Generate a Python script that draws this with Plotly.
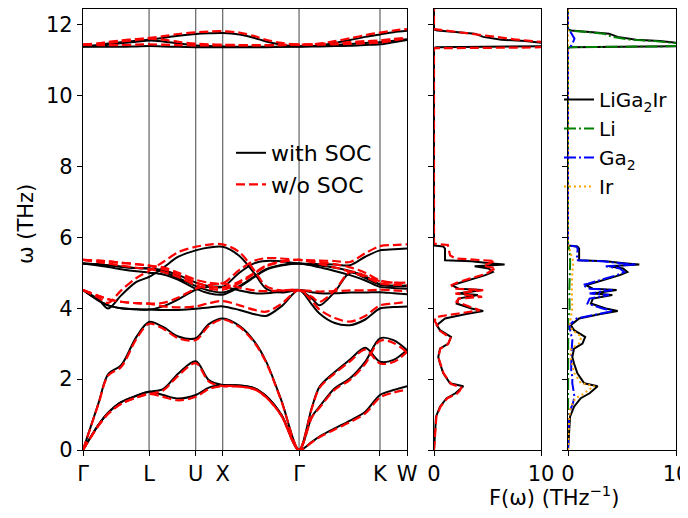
import plotly.graph_objects as go

K_NODES = [0.0, 0.2, 0.33, 0.5, 0.7, 0.866, 1.05, 1.25, 1.478, 1.65, 1.832,
           2.05, 2.25, 2.4, 2.6, 2.832, 3.0, 3.1, 3.3, 3.5, 3.7, 3.893, 4.07, 4.247]
TICK_POS = [0.0, 0.866, 1.478, 1.832, 2.832, 3.893, 4.247]
TICK_LABELS = ["Γ", "L", "U", "X", "Γ", "K", "W"]
Y_TICKS = [0, 2, 4, 6, 8, 10, 12]

# with SOC (THz)
soc_ta1 = [0, 0.7, 1.05, 1.35, 1.53, 1.64, 1.55, 1.45, 1.55, 1.76, 1.83,
           1.82, 1.74, 1.52, 0.99, 0, 0.23, 0.38, 0.61, 0.83, 1.08, 1.55, 1.69, 1.8]
soc_ta2 = [0, 0.7, 1.05, 1.35, 1.53, 1.64, 1.72, 2.16, 2.5, 1.97, 1.83,
           1.82, 1.74, 1.52, 0.99, 0, 0.94, 1.22, 1.74, 2.02, 2.49, 3.15, 3.1, 2.82]
soc_la = [0, 1.3, 2.14, 2.39, 3.19, 3.61, 3.47, 3.2, 3.15, 3.55, 3.71,
          3.5, 3.05, 2.5, 1.4, 0, 1.2, 1.78, 2.2, 2.55, 2.88, 2.49, 2.54, 2.82]
soc_o1 = [5.26, 5.24, 5.21, 5.17, 5.13, 5.12, 5.07, 4.93, 4.72, 4.62, 4.6,
          5.0, 5.27, 5.33, 5.32, 5.26, 5.25, 5.24, 5.23, 5.21, 5.45, 5.63, 5.66, 5.68]
soc_o2 = [5.26, 5.24, 5.21, 5.17, 5.13, 5.12, 5.02, 4.85, 4.62, 4.5, 4.44,
          4.62, 4.9, 5.1, 5.22, 5.26, 5.22, 5.2, 5.14, 5.05, 4.9, 4.67, 4.63, 4.62]
soc_o3 = [5.26, 5.2, 5.16, 5.1, 5.04, 5.0, 4.95, 4.8, 4.55, 4.42, 4.38,
          4.6, 4.88, 5.08, 5.2, 5.26, 5.2, 5.15, 5.05, 4.93, 4.78, 4.6, 4.57, 4.55]
soc_o4 = [4.51, 4.25, 3.99, 4.36, 4.74, 4.88, 5.14, 5.45, 5.63, 5.71, 5.73,
          5.47, 4.97, 4.55, 4.44, 4.51, 4.45, 4.42, 4.42, 4.44, 4.44, 4.45, 4.42, 4.39]
soc_o5 = [4.51, 4.22, 4.08, 4.0, 3.97, 3.96, 4.05, 4.25, 4.52, 4.6, 4.6,
          4.5, 4.42, 4.42, 4.46, 4.51, 4.27, 4.08, 4.46, 5.0, 4.85, 4.66, 4.63, 4.64]
soc_o6 = [4.51, 4.22, 4.08, 4.0, 3.97, 3.96, 3.95, 3.95, 3.98, 4.02, 4.05,
          3.95, 3.83, 3.78, 4.05, 4.51, 4.1, 3.85, 3.58, 3.52, 3.68, 3.99, 4.03, 4.05]
soc_li1 = [11.38, 11.42, 11.46, 11.5, 11.54, 11.57, 11.62, 11.68, 11.73, 11.75, 11.76,
           11.72, 11.62, 11.52, 11.43, 11.38, 11.39, 11.41, 11.48, 11.56, 11.65, 11.72, 11.78, 11.82]
soc_li2 = [11.38, 11.4, 11.43, 11.47, 11.51, 11.55, 11.52, 11.46, 11.41, 11.39, 11.38,
           11.37, 11.37, 11.37, 11.37, 11.38, 11.39, 11.4, 11.42, 11.45, 11.48, 11.5, 11.54, 11.58]
soc_li3 = [11.38, 11.37, 11.37, 11.37, 11.38, 11.39, 11.38, 11.37, 11.36, 11.36, 11.36,
           11.36, 11.36, 11.36, 11.37, 11.38, 11.38, 11.38, 11.39, 11.4, 11.42, 11.44, 11.5, 11.56]

# without SOC (THz)
nos_ta1 = [0, 0.68, 1.02, 1.3, 1.48, 1.58, 1.5, 1.4, 1.5, 1.72, 1.8,
           1.79, 1.71, 1.49, 0.97, 0, 0.22, 0.36, 0.58, 0.79, 1.03, 1.48, 1.62, 1.7]
nos_ta2 = [0, 0.68, 1.02, 1.3, 1.48, 1.58, 1.68, 2.1, 2.45, 1.93, 1.8,
           1.79, 1.71, 1.49, 0.97, 0, 0.92, 1.19, 1.7, 1.98, 2.43, 3.08, 3.02, 2.75]
nos_la = [0, 1.28, 2.1, 2.34, 3.13, 3.56, 3.42, 3.15, 3.1, 3.5, 3.68,
          3.47, 3.02, 2.47, 1.38, 0, 1.18, 1.75, 2.16, 2.5, 2.83, 2.44, 2.48, 2.76]
nos_o1 = [5.36, 5.34, 5.32, 5.28, 5.24, 5.2, 5.15, 5.0, 4.8, 4.72, 4.7,
          5.08, 5.34, 5.41, 5.4, 5.36, 5.35, 5.34, 5.33, 5.3, 5.55, 5.75, 5.78, 5.8]
nos_o2 = [5.36, 5.34, 5.32, 5.28, 5.24, 5.2, 5.1, 4.95, 4.72, 4.62, 4.58,
          4.75, 5.0, 5.2, 5.32, 5.36, 5.32, 5.3, 5.24, 5.15, 5.0, 4.78, 4.72, 4.7]
nos_o3 = [5.36, 5.3, 5.26, 5.2, 5.14, 5.1, 5.02, 4.88, 4.65, 4.55, 4.52,
          4.7, 4.98, 5.18, 5.3, 5.36, 5.3, 5.25, 5.15, 5.03, 4.88, 4.7, 4.66, 4.64]
nos_o4 = [4.51, 4.3, 4.15, 4.5, 4.85, 5.05, 5.3, 5.58, 5.73, 5.79, 5.8,
          5.58, 5.05, 4.62, 4.5, 4.51, 4.48, 4.47, 4.48, 4.5, 4.5, 4.52, 4.5, 4.48]
nos_o5 = [4.51, 4.35, 4.25, 4.18, 4.14, 4.13, 4.15, 4.3, 4.55, 4.65, 4.7,
          4.58, 4.5, 4.48, 4.5, 4.51, 4.32, 4.18, 4.5, 5.02, 4.92, 4.76, 4.72, 4.72]
nos_o6 = [4.51, 4.35, 4.25, 4.18, 4.14, 4.13, 4.05, 4.02, 4.05, 4.14, 4.2,
          4.08, 3.95, 3.9, 4.12, 4.51, 4.2, 3.96, 3.72, 3.62, 3.78, 4.08, 4.13, 4.18]
nos_li1 = [11.43, 11.47, 11.51, 11.55, 11.59, 11.62, 11.67, 11.73, 11.78, 11.8, 11.81,
           11.77, 11.67, 11.57, 11.48, 11.43, 11.44, 11.46, 11.53, 11.61, 11.7, 11.77, 11.83, 11.87]
nos_li2 = [11.43, 11.45, 11.48, 11.52, 11.56, 11.6, 11.57, 11.51, 11.46, 11.44, 11.43,
           11.42, 11.42, 11.42, 11.42, 11.43, 11.44, 11.45, 11.47, 11.5, 11.53, 11.55, 11.59, 11.63]
nos_li3 = [11.43, 11.42, 11.42, 11.42, 11.43, 11.44, 11.43, 11.42, 11.41, 11.41, 11.41,
           11.41, 11.41, 11.41, 11.42, 11.43, 11.43, 11.43, 11.44, 11.45, 11.47, 11.49, 11.55, 11.61]

# phonon DOS F(ω), THz^-1
dos_soc_f = [0.0, 0.56, 0.94, 1.22, 1.46, 1.6, 1.69, 1.8, 1.88, 2.16, 2.44, 2.62, 2.86, 3.0,
             3.19, 3.38, 3.52, 3.71, 3.83, 3.92, 3.99, 4.13, 4.27, 4.37, 4.41, 4.51, 4.55,
             4.65, 4.69, 4.84, 4.93, 5.02, 5.12, 5.18, 5.23, 5.26, 5.32, 5.35, 5.68, 5.74,
             5.77, 5.8, 11.33, 11.36, 11.38, 11.4, 11.45, 11.48, 11.53, 11.57, 11.65, 11.74,
             11.79, 11.83, 11.86, 12.45]
dos_soc = [0.0, 0.09, 0.19, 0.56, 1.18, 2.0, 2.3, 2.74, 1.5, 0.87, 0.56, 0.4, 0.56, 1.34,
           1.59, 0.56, 0.25, 1.03, 2.9, 4.6, 3.5, 2.12, 2.3, 4.1, 2.3, 4.5, 2.3,
           1.65, 2.12, 3.8, 4.8, 5.5, 5.1, 3.8, 6.6, 5.4, 3.5, 1.03, 1.03, 0.87,
           0.0, 0.0, 0.0, 0.2, 9.0, 14.0, 16.0, 10.2, 8.5, 6.3, 4.6, 3.8,
           2.0, 0.3, 0.0, 0.0]
dos_nos_f = [0.0, 0.56, 0.94, 1.22, 1.46, 1.58, 1.67, 1.76, 1.86, 2.16, 2.44, 2.62, 2.86,
             2.98, 3.16, 3.36, 3.47, 3.62, 3.74, 3.77, 3.85, 3.94, 3.99, 4.18, 4.27, 4.32,
             4.41, 4.51, 4.55, 4.65, 4.74, 4.88, 4.97, 5.07, 5.12, 5.2, 5.26, 5.33, 5.4,
             5.49, 5.63, 5.78, 5.82, 5.85, 11.33, 11.35, 11.37, 11.42, 11.5, 11.58, 11.7,
             11.78, 11.84, 11.87, 12.45]
dos_nos = [0.0, 0.1, 0.22, 0.6, 1.25, 2.1, 2.4, 2.55, 1.6, 0.9, 0.55, 0.4, 0.6,
           1.3, 1.55, 0.55, 0.4, 0.1, 0.1, 0.56, 2.3, 4.3, 3.8, 2.1, 2.3, 4.5,
           2.0, 4.6, 1.8, 1.65, 2.3, 3.8, 4.9, 5.4, 5.8, 4.6, 5.1, 5.7, 2.0,
           1.5, 1.4, 1.3, 0.0, 0.0, 0.0, 9.0, 14.0, 16.0, 10.3, 7.5, 4.5,
           2.5, 0.6, 0.0, 0.0]

# partial DOS (with SOC)
pdos_li_f = [0.0, 3.75, 3.85, 4.0, 4.5, 5.0, 5.3, 5.6, 5.8, 11.33, 11.36, 11.38, 11.4,
             11.45, 11.48, 11.53, 11.57, 11.65, 11.74, 11.79, 11.83, 11.86, 12.45]
pdos_li = [0.0, 0.02, 0.1, 0.15, 0.12, 0.18, 0.2, 0.15, 0.0, 0.0, 0.15, 8.6, 13.5,
           15.5, 9.8, 8.0, 5.8, 4.1, 3.3, 1.6, 0.1, 0.0, 0.0]
pdos_ga_f = [0.0, 0.94, 1.12, 1.31, 1.5, 1.69, 1.88, 2.06, 2.25, 2.62, 3.1, 3.38, 3.52,
             3.71, 3.83, 3.92, 3.99, 4.13, 4.27, 4.37, 4.41, 4.51, 4.55, 4.65, 4.69, 4.84,
             4.93, 5.02, 5.12, 5.18, 5.23, 5.26, 5.32, 5.35, 5.68, 5.74, 5.77, 5.8, 11.33,
             11.36, 11.45, 11.6, 11.75, 11.83, 11.86, 12.45]
pdos_ga = [0.0, 0.08, 0.2, 0.45, 0.6, 0.5, 0.4, 0.4, 0.3, 0.3, 0.4, 0.2, 0.12,
           0.8, 2.6, 4.2, 3.2, 1.8, 2.0, 3.8, 2.0, 4.1, 2.0, 1.35, 1.85, 3.5,
           4.5, 5.2, 4.8, 3.5, 6.3, 5.1, 3.2, 0.8, 0.9, 0.75, 0.0, 0.0, 0.0,
           0.2, 0.4, 0.6, 0.35, 0.15, 0.0, 0.0]
pdos_ir_f = [0.0, 0.56, 0.94, 1.22, 1.46, 1.6, 1.69, 1.8, 1.88, 2.16, 2.44, 2.62, 2.86,
             3.0, 3.19, 3.38, 3.52, 3.71, 3.85, 4.0, 4.5, 5.0, 5.3, 5.5, 5.8, 11.3, 12.45]
pdos_ir = [0.0, 0.08, 0.12, 0.25, 0.7, 1.55, 1.85, 2.45, 1.2, 0.6, 0.35, 0.2, 0.3,
           1.0, 1.25, 0.4, 0.15, 0.25, 0.3, 0.4, 0.35, 0.4, 0.5, 0.3, 0.0, 0.0, 0.0]

soc_bands = [soc_ta1, soc_ta2, soc_la, soc_o1, soc_o2, soc_o3, soc_o4, soc_o5, soc_o6,
             soc_li1, soc_li2, soc_li3]
nos_bands = [nos_ta1, nos_ta2, nos_la, nos_o1, nos_o2, nos_o3, nos_o4, nos_o5, nos_o6,
             nos_li1, nos_li2, nos_li3]

RED_DASH = "9px,4px"
DASHDOT = "12px,3px,2px,3px"
FONT = "DejaVu Sans"

fig = go.Figure()

for i, b in enumerate(soc_bands):
    fig.add_trace(go.Scatter(x=K_NODES, y=b, mode="lines", name="with SOC",
                             legendgroup="soc", showlegend=(i == 0),
                             line=dict(color="black", width=2, shape="spline", smoothing=0.9),
                             xaxis="x", yaxis="y", legend="legend"))
for i, b in enumerate(nos_bands):
    fig.add_trace(go.Scatter(x=K_NODES, y=b, mode="lines", name="w/o SOC",
                             legendgroup="nos", showlegend=(i == 0),
                             line=dict(color="red", width=2.2, dash=RED_DASH,
                                       shape="spline", smoothing=0.9),
                             xaxis="x", yaxis="y", legend="legend"))

# total DOS
fig.add_trace(go.Scatter(x=dos_soc, y=dos_soc_f, mode="lines", showlegend=False,
                         line=dict(color="black", width=2), xaxis="x2", yaxis="y2"))
fig.add_trace(go.Scatter(x=dos_nos, y=dos_nos_f, mode="lines", showlegend=False,
                         line=dict(color="red", width=2.2, dash=RED_DASH),
                         xaxis="x2", yaxis="y2"))

# projected DOS
fig.add_trace(go.Scatter(x=dos_soc, y=dos_soc_f, mode="lines", name="LiGa<sub>2</sub>Ir",
                         line=dict(color="black", width=2), xaxis="x3", yaxis="y3",
                         legend="legend2", legendgroup="p1"))
fig.add_trace(go.Scatter(x=pdos_li, y=pdos_li_f, mode="lines", name="Li",
                         line=dict(color="green", width=2, dash=DASHDOT),
                         xaxis="x3", yaxis="y3", legend="legend2", legendgroup="p2"))
fig.add_trace(go.Scatter(x=pdos_ga, y=pdos_ga_f, mode="lines", name="Ga<sub>2</sub>",
                         line=dict(color="blue", width=2, dash=DASHDOT),
                         xaxis="x3", yaxis="y3", legend="legend2", legendgroup="p3"))
fig.add_trace(go.Scatter(x=pdos_ir, y=pdos_ir_f, mode="lines", name="Ir",
                         line=dict(color="orange", width=2, dash="2px,3px"),
                         xaxis="x3", yaxis="y3", legend="legend2", legendgroup="p4"))

# the page body keeps an 8px margin; the figure runs to the window's right edge
W, H = 680, 502
OFF = 8


def fx(px):
    return (px - OFF) / W


def fy(py):
    return 1 - (py - OFF) / H


ydom = [fy(450), fy(8.5)]
axis_style = dict(showline=True, mirror=True, linecolor="black", linewidth=1.3,
                  ticks="outside", ticklen=5, tickwidth=1.3, tickcolor="black",
                  showgrid=False, zeroline=False, automargin=False,
                  ticklabeloverflow="allow",
                  tickfont=dict(family=FONT, size=21, color="black"))

shapes = [dict(type="line", xref="x", yref="y domain", x0=p, x1=p, y0=0, y1=1,
               line=dict(color="#444", width=1), layer="below")
          for p in TICK_POS[1:-1]]

fig.update_layout(
    width=W, height=H,
    margin=dict(l=0, r=0, t=0, b=0),
    paper_bgcolor="white", plot_bgcolor="white",
    font=dict(family=FONT, size=21, color="black"),
    xaxis=dict(domain=[fx(83), fx(407)], range=[0, 4.247], tickmode="array",
               tickvals=TICK_POS, ticktext=TICK_LABELS, anchor="y", **axis_style),
    yaxis=dict(domain=ydom, range=[0, 12.45], tickmode="array", tickvals=Y_TICKS,
               anchor="x", **axis_style),
    xaxis2=dict(domain=[fx(434), fx(541)], range=[0, 10], tickmode="array",
                tickvals=[0, 10], anchor="y2", **axis_style),
    yaxis2=dict(domain=ydom, range=[0, 12.45], tickmode="array", tickvals=Y_TICKS,
                showticklabels=False, anchor="x2", **axis_style),
    xaxis3=dict(domain=[fx(568), fx(676)], range=[0, 10], tickmode="array",
                tickvals=[0, 10], anchor="y3", **axis_style),
    yaxis3=dict(domain=ydom, range=[0, 12.45], tickmode="array", tickvals=Y_TICKS,
                showticklabels=False, anchor="x3", **axis_style),
    shapes=shapes,
    legend=dict(x=fx(231), y=fy(132), xanchor="left", yanchor="top",
                bgcolor="rgba(0,0,0,0)", font=dict(family=FONT, size=22),
                itemwidth=30, tracegroupgap=0),
    legend2=dict(x=fx(559), y=fy(80), xanchor="left", yanchor="top",
                 bgcolor="rgba(0,0,0,0)", font=dict(family=FONT, size=20),
                 itemwidth=30, tracegroupgap=0),
    annotations=[
        dict(text="ω (THz)", x=fx(26), y=fy(224), xref="paper", yref="paper",
             xanchor="center", yanchor="middle",
             textangle=-90, showarrow=False, font=dict(family=FONT, size=21)),
        dict(text="F(ω) (THz<sup>−1</sup>)", x=fx(554), y=fy(496), xref="paper",
             yref="paper", xanchor="center", yanchor="middle",
             showarrow=False, font=dict(family=FONT, size=21)),
    ],
)

fig.write_html("out.html")
